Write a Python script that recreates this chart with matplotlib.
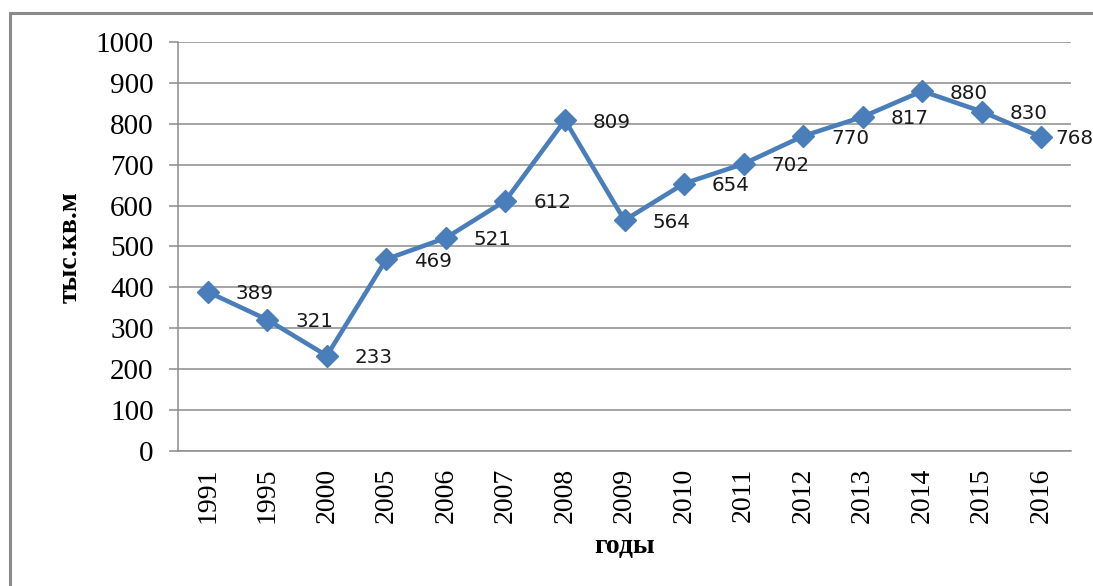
import matplotlib
matplotlib.use("Agg")
import matplotlib.pyplot as plt
from matplotlib.patches import Rectangle

years = ["1991", "1995", "2000", "2005", "2006", "2007", "2008", "2009",
         "2010", "2011", "2012", "2013", "2014", "2015", "2016"]
values = [389, 321, 233, 469, 521, 612, 809, 564, 654, 702, 770, 817, 880, 830, 768]
yticks = [0, 100, 200, 300, 400, 500, 600, 700, 800, 900, 1000]

W, H = 1093, 586
fig = plt.figure(figsize=(W / 100, H / 100), dpi=100)
fig.patch.set_facecolor("white")

# outer frame (partially off-canvas, as in reference)
fig.add_artist(Rectangle((10 / W, 1 - 600 / H), 1200 / W, (600 - 13) / H,
                         transform=fig.transFigure, fill=False,
                         edgecolor="#8a8a8a", linewidth=2.2))

ax = fig.add_axes([178 / W, 1 - 451 / H, (1071 - 178) / W, (451 - 42) / H])
x = list(range(len(years)))
ax.plot(x, values, color="#4A7EBB", linewidth=3.3, marker="D",
        markersize=11, markerfacecolor="#4A7EBB", markeredgecolor="#4A7EBB",
        zorder=3, clip_on=False)

for i, v in enumerate(values):
    dx = 20 if i < len(values) - 1 else 10
    ax.annotate(str(v), (i, v), xytext=(dx, -1.5), textcoords="offset points",
                ha="left", va="center", fontsize=14.3, color="#1a1a1a",
                family="DejaVu Sans", zorder=4, annotation_clip=False)

ax.set_xlim(-0.5, len(years) - 0.5)
ax.set_ylim(0, 1000)
ax.set_yticks(yticks)
ax.set_xticks(x)
ax.set_xticklabels(years, rotation=90, family="Liberation Serif", fontsize=20)
ax.set_yticklabels([str(t) for t in yticks], family="Liberation Serif", fontsize=21)

ax.yaxis.grid(True, color="#8c8c8c", linewidth=1.1)
ax.set_axisbelow(True)
for s in ["top", "right"]:
    ax.spines[s].set_visible(False)
ax.spines["left"].set_color("#8c8c8c")
ax.spines["bottom"].set_color("#8c8c8c")
ax.spines["left"].set_linewidth(1.1)
ax.spines["bottom"].set_linewidth(1.1)
ax.tick_params(axis="y", length=6.5, width=1.1, color="#8c8c8c", pad=11)
ax.tick_params(axis="x", length=0, pad=12)

fig.text(70 / W, 1 - 247 / H, "тыс.кв.м", rotation=90, ha="center", va="center",
         family="Liberation Serif", fontweight="bold", fontsize=20)
fig.text(625 / W, 1 - 547 / H, "годы", ha="center", va="center",
         family="Liberation Serif", fontweight="bold", fontsize=20)

fig.savefig("out.png", dpi=100)
